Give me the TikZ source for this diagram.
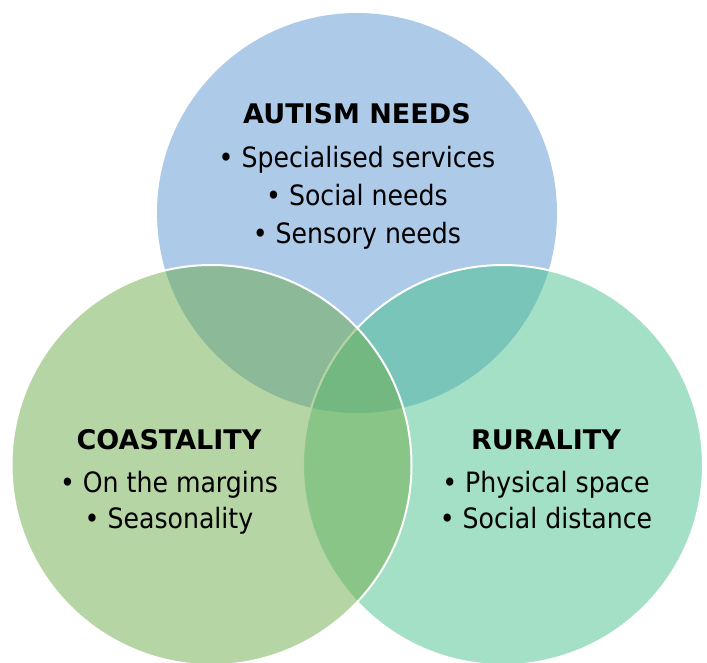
\documentclass[tikz,border=0pt]{standalone}
\usepackage{fontspec}
\setmainfont{DejaVu Sans Condensed}
\newfontfamily\headfont{DejaVu Sans}
\definecolor{autblue}{HTML}{ADCBE9}
\definecolor{rurteal}{HTML}{49C18D}
\definecolor{coagreen}{HTML}{6DAB49}
\begin{document}
\begin{tikzpicture}[x=1pt,y=-1pt,
  circ/.style={draw=white,line width=2pt},
  head/.style={anchor=base,inner sep=0pt,font=\headfont\fontsize{27}{30}\selectfont\bfseries},
  item/.style={anchor=base,inner sep=0pt,font=\fontsize{28}{32}\selectfont}]
\useasboundingbox (0,0) rectangle (707,662);
\begin{scope}
\clip (0,0) rectangle (707,662);
\fill[autblue] (357,213) circle (200);
\draw[circ,fill=rurteal,fill opacity=0.5] (503,465) circle (200);
\draw[circ,fill=coagreen,fill opacity=0.5] (211.5,465) circle (200);
\end{scope}
\node[head] (aut) at (357,123) {AUTISM NEEDS};
\node[item] (aut1) at (357,167) {• Specialised services};
\node[item] (aut2) at (357,205) {• Social needs};
\node[item] (aut3) at (357,243) {• Sensory needs};
\node[head] (coa) at (169,449) {COASTALITY};
\node[item] (coa1) at (169,492) {• On the margins};
\node[item] (coa2) at (169,528) {• Seasonality};
\node[head] (rur) at (546,449) {RURALITY};
\node[item] (rur1) at (546,492) {• Physical space};
\node[item] (rur2) at (546,528) {• Social distance};
\end{tikzpicture}
\end{document}
